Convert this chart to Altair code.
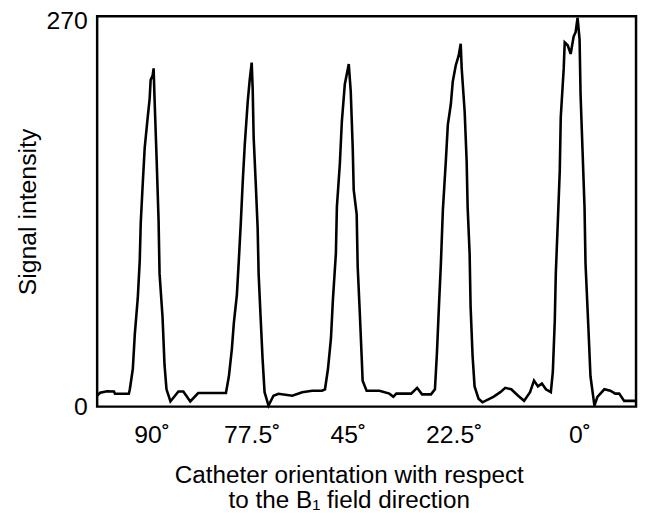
import altair as alt
import pandas as pd

# Trace position along the scan (arbitrary units, 0..544) and signal intensity
position = [0, 3, 10, 17, 18, 32, 33, 36, 38, 41, 43, 44, 46, 48, 51, 53, 54, 56, 57, 58,
            60, 62, 63, 66, 68, 70, 74, 82, 87, 94, 102, 130,
            133, 136, 138, 141, 143, 145, 147, 149, 152, 154, 156, 157, 158, 160, 162, 163,
            165, 167, 169, 173, 178, 183, 197, 207, 217, 227, 230, 233, 236, 238, 241, 242,
            245, 247, 250, 252, 254, 256, 258, 259,
            262, 263, 265, 267, 268, 272, 285, 295, 299, 302, 317, 323, 328, 337, 341, 343,
            345, 347, 349, 352, 354, 357, 359, 362, 365, 367, 368, 371, 373, 374, 376, 377,
            379, 381, 385, 389,
            400, 407, 412, 418, 425, 431, 437, 441, 445, 449, 453, 458, 460, 462, 463, 465,
            467, 468, 471, 472, 475, 478, 481, 483, 485, 487, 488, 490, 492, 493, 496, 498,
            502, 505, 512, 518, 523, 527, 532, 544]
signal = [7.7, 9.6, 10.7, 10.5, 8.9, 8.9, 12, 26, 50, 75, 101, 127, 154, 179, 200, 213, 226, 229, 234, 212,
          172, 129, 92, 62, 29, 12, 3.6, 10.5, 10.5, 3.6, 9.4, 9.4,
          21, 40, 58, 77, 101, 127, 156, 181, 211, 226, 238, 220, 186, 156, 124, 92,
          62, 33, 10, 0.7, 7.5, 8.9, 7.5, 10, 11, 11, 12, 26, 47, 74, 106, 138,
          168, 197, 223, 230, 237, 218, 179, 150,
          133, 97, 67, 35, 18, 11, 11, 9, 6.8, 9, 9, 13, 8.5, 8.5, 12, 37,
          69, 99, 136, 170, 195, 209, 225, 236, 243, 251, 234, 204, 170, 138, 106, 69,
          35, 14, 5.5, 3,
          6.8, 10, 13, 12, 7.5, 4, 10, 18, 14, 16, 12, 10, 24, 60, 92, 127,
          163, 200, 234, 252, 250, 244, 256, 259, 269, 254, 216, 177, 138, 99, 53, 21,
          0.7, 6.8, 12, 11, 9, 9, 4, 4]

tick_positions = [55, 156, 253, 360, 487]
tick_labels = ["90˚", "77.5˚", "45˚", "22.5˚", "0˚"]

df = pd.DataFrame({"pos": position, "signal": signal})

label_map = "{" + ", ".join(f"'{p}': '{l}'" for p, l in zip(tick_positions, tick_labels)) + "}"

FONT = "Liberation Sans"
FS = 25

chart = alt.Chart(df).mark_line(color="black", strokeWidth=2.6, strokeJoin="miter").encode(
    x=alt.X(
        "pos:Q",
        scale=alt.Scale(domain=[0, 544], nice=False, zero=False),
        axis=alt.Axis(
            values=tick_positions,
            labelExpr=f"{label_map}[datum.value + '']",
            ticks=False,
            domain=False,
            grid=False,
            labelFontSize=FS,
            labelFont=FONT,
            labelColor="black",
            labelPadding=16,
            labelFlush=False,
            title=["Catheter orientation with respect", "to the B₁ field direction"],
            titleFont=FONT,
            titleFontSize=24.5,
            titleFontWeight="normal",
            titleColor="black",
            titlePadding=17,
            titleLineHeight=25,
            titleX=254,
            titleAlign="center",
        ),
    ),
    y=alt.Y(
        "signal:Q",
        scale=alt.Scale(domain=[0, 270], nice=False, zero=True),
        axis=alt.Axis(
            values=[0, 270],
            ticks=False,
            domain=False,
            grid=False,
            labelFontSize=FS,
            labelFont=FONT,
            labelColor="black",
            labelPadding=10,
            labelFlush=False,
            labelOffset={"condition": {"test": "datum.value == 270", "value": 4}, "value": 0},
            title="Signal intensity",
            titleFont=FONT,
            titleFontSize=FS,
            titleFontWeight="normal",
            titleColor="black",
            titlePadding=6,
        ),
    ),
).properties(
    width=544,
    height=394,
    autosize=alt.AutoSizeParams(type="none"),
    padding={"left": 90, "top": 6, "right": 4, "bottom": 110},
).configure(
    background="white",
).configure_view(
    stroke="black",
    strokeWidth=2.5,
)

chart.save("out.html", embed_options={"renderer": "svg", "actions": False})
